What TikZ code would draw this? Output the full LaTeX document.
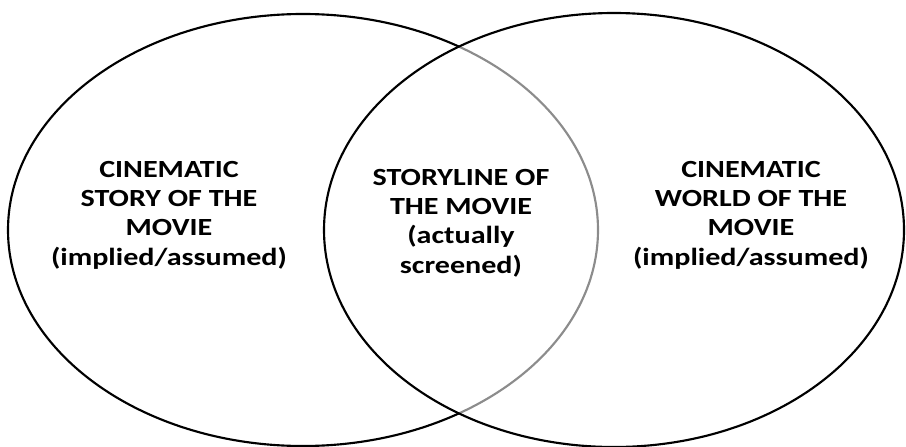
\documentclass[tikz,border=0pt]{standalone}
\usepackage{fontspec}
\setmainfont{Carlito}
\begin{document}
\begin{tikzpicture}[x=0.75pt,y=-0.75pt,
  ring/.style={draw=black,line width=1.6pt},
  lbl/.style={align=center,font=\fontsize{18.5}{22}\selectfont\bfseries,text=black,inner sep=0pt,xscale=1.22,transform shape}]
\useasboundingbox (0,0) rectangle (906,446);
\clip (0,0) rectangle (906,446);
\draw[ring] (303,230) ellipse [x radius=295, y radius=216];
\fill[white,opacity=0.55] (614,230) ellipse [x radius=290, y radius=217];
\draw[ring] (614,230) ellipse [x radius=290, y radius=217];
\begin{scope}[shift={(169,215)}]
\node[lbl] (story) at (0,0) {CINEMATIC\\STORY OF THE\\MOVIE\\(implied/assumed)};
\end{scope}
\begin{scope}[shift={(461,223)}]
\node[lbl] (line) at (0,0) {STORYLINE OF\\THE MOVIE\\(actually\\screened)};
\end{scope}
\begin{scope}[shift={(751,215)}]
\node[lbl] (world) at (0,0) {CINEMATIC\\WORLD OF THE\\MOVIE\\(implied/assumed)};
\end{scope}
\end{tikzpicture}
\end{document}
